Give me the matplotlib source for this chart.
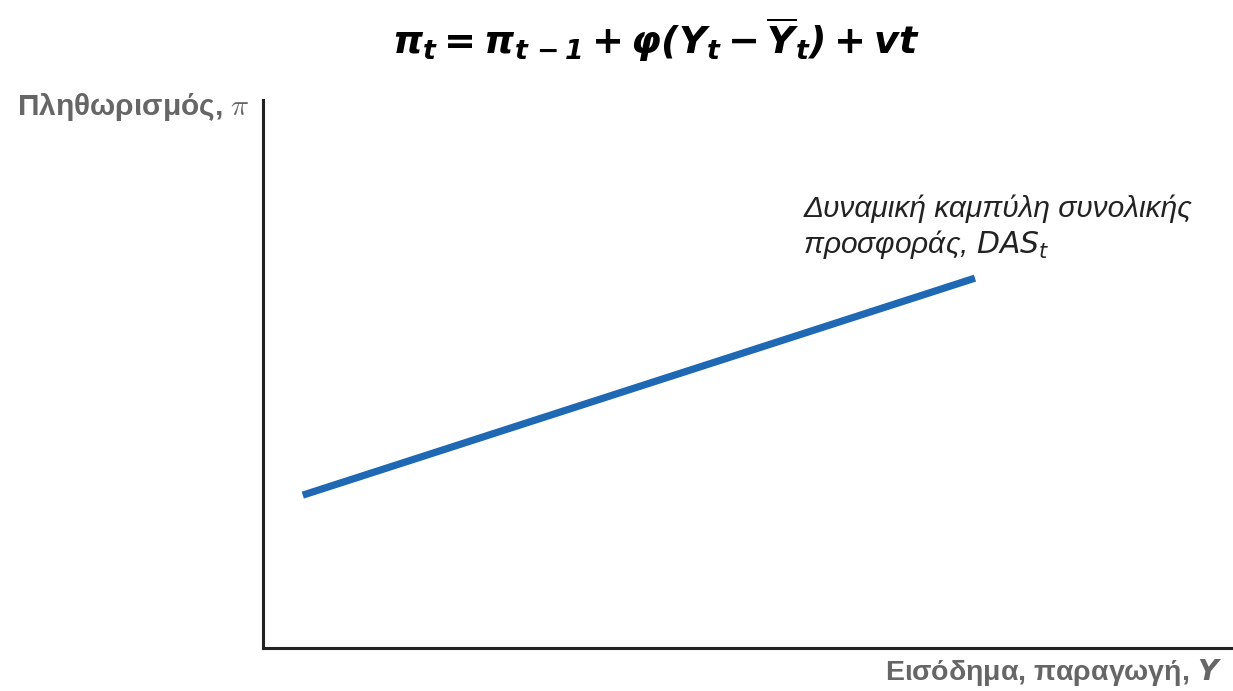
import matplotlib.pyplot as plt

# DAS curve endpoints (arbitrary units on both axes)
das_x = [4.1, 73.4]
das_y = [27.9, 67.5]

title_eq = r'$\mathbfit{\pi_t = \pi_{t\,-1} + \varphi(Y_t - \overline{Y}_t) + vt}$'
y_label = 'Πληθωρισμός, '
x_label = 'Εισόδημα, παραγωγή, '
curve_label = 'Δυναμική καμπύλη συνολικής\nπροσφοράς, $DAS_t$'

fig = plt.figure(figsize=(12.33, 6.91), dpi=100)
ax = fig.add_axes([0.2133, 0.0622, 0.7867, 0.793])

ax.plot(das_x, das_y, color='#1f68b3', linewidth=5.2, solid_capstyle='butt')

ax.set_xlim(0, 100)
ax.set_ylim(0, 100)
ax.set_xticks([])
ax.set_yticks([])
for side in ['top', 'right']:
    ax.spines[side].set_visible(False)
for side in ['left', 'bottom']:
    ax.spines[side].set_linewidth(2.2)
    ax.spines[side].set_color('#222222')

fig.text(0.532, 0.942, title_eq, ha='center', va='center', fontsize=27.5,
         math_fontfamily='dejavusans')

grey = '#666666'
fig.text(0.014, 0.845, y_label + r'$\pi$', ha='left', va='center', fontsize=21.5,
         fontweight='bold', color=grey, family='Liberation Sans', math_fontfamily='cm')
fig.text(0.991, 0.027, x_label + r'$\mathbfit{Y}$', ha='right', va='center', fontsize=20.5,
         fontweight='bold', color=grey, family='Liberation Sans', math_fontfamily='dejavusans')

ax.text(0.557, 0.767, curve_label, transform=ax.transAxes, ha='left', va='center',
        fontsize=21.5, style='italic', color='#222222', family='Liberation Sans',
        linespacing=1.2, math_fontfamily='dejavusans')

fig.savefig('out.png', dpi=100)
